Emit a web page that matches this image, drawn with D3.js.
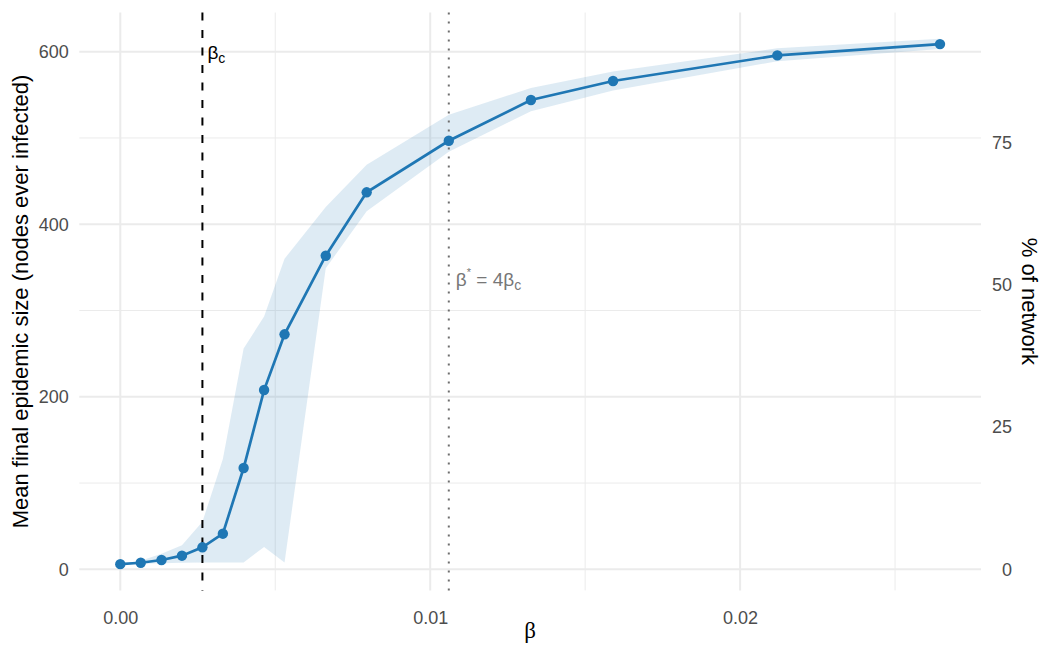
<!DOCTYPE html>
<html>
<head>
<meta charset="utf-8">
<script src="https://cdn.jsdelivr.net/npm/d3@7"></script>
<style>
  body { margin: 0; background: #fff; }
  text { font-family: "Liberation Sans", Arial, sans-serif; }
</style>
</head>
<body>
<svg id="chart" width="1050" height="660"></svg>
<script>
// data
const beta = [0, 0.00066, 0.00133, 0.00199, 0.00265, 0.00331, 0.00398, 0.00464,
  0.0053, 0.00663, 0.00795, 0.0106, 0.01325, 0.0159, 0.0212, 0.02645]
const meanSize = [6, 7.6, 10.8, 15.8, 25.5, 41.3, 117.4, 207.8, 272.4, 363.5,
  437, 496.8, 544, 566, 595.7, 608.8]
const lowerSize = [6, 6.5, 7, 7.5, 8, 8, 8, 26, 8, 349, 415, 484, 531, 555, 589, 603]
const upperSize = [6, 10, 18, 28, 55, 128, 256, 293, 360, 420, 469, 527, 558, 577, 604, 615]

const betaC = 0.00265
const betaStar = 0.0106
const networkSize = 660

const xMajor = [0, 0.01, 0.02]
const xMinor = [0.005, 0.015, 0.025]
const yMajor = [0, 200, 400, 600]
const yMinor = [100, 300, 500]
const pctTicks = [0, 25, 50, 75]

const rows = beta.map((b, i) => ({ b, m: meanSize[i], lo: lowerSize[i], hi: upperSize[i] }))

// panel box
const panel = { left: 79.3, right: 981, top: 12.5, bottom: 590.4 }

const svg = d3.select("#chart")

// ggplot-ish 5% expansion
const expand = ([a, b]) => { const r = b - a; return [a - 0.05 * r, b + 0.05 * r] }

const x = d3.scaleLinear()
  .domain(expand(d3.extent(beta)))
  .range([panel.left, panel.right])

const y = d3.scaleLinear()
  .domain(expand([d3.min(lowerSize), d3.max(upperSize)]))
  .range([panel.bottom, panel.top])

const yPct = d3.scaleLinear()
  .domain(y.domain().map(v => v / networkSize * 100))
  .range(y.range())

// grid
const grid = svg.append("g")
grid.selectAll(".xminor").data(xMinor).join("line")
  .attr("x1", d => x(d)).attr("x2", d => x(d))
  .attr("y1", panel.top).attr("y2", panel.bottom)
  .attr("stroke", "#EBEBEB").attr("stroke-width", 1)
grid.selectAll(".yminor").data(yMinor).join("line")
  .attr("x1", panel.left).attr("x2", panel.right)
  .attr("y1", d => y(d)).attr("y2", d => y(d))
  .attr("stroke", "#EBEBEB").attr("stroke-width", 1)
grid.selectAll(".xmajor").data(xMajor).join("line")
  .attr("x1", d => x(d)).attr("x2", d => x(d))
  .attr("y1", panel.top).attr("y2", panel.bottom)
  .attr("stroke", "#EBEBEB").attr("stroke-width", 2)
grid.selectAll(".ymajor").data(yMajor).join("line")
  .attr("x1", panel.left).attr("x2", panel.right)
  .attr("y1", d => y(d)).attr("y2", d => y(d))
  .attr("stroke", "#EBEBEB").attr("stroke-width", 2)

// ribbon
const area = d3.area()
  .x(d => x(d.b))
  .y0(d => y(d.lo))
  .y1(d => y(d.hi))
svg.append("path")
  .datum(rows)
  .attr("d", area)
  .attr("fill", "#1f77b4")
  .attr("fill-opacity", 0.15)

// reference lines
svg.append("line")
  .attr("x1", x(betaC)).attr("x2", x(betaC))
  .attr("y1", panel.top).attr("y2", panel.bottom)
  .attr("stroke", "#000").attr("stroke-width", 2)
  .attr("stroke-dasharray", "8,9.5")
svg.append("line")
  .attr("x1", x(betaStar)).attr("x2", x(betaStar))
  .attr("y1", panel.top).attr("y2", panel.bottom)
  .attr("stroke", "#6e6e6e").attr("stroke-width", 2)
  .attr("stroke-dasharray", "2,7")

// mean line + points
const line = d3.line().x(d => x(d.b)).y(d => y(d.m))
svg.append("path")
  .datum(rows)
  .attr("d", line)
  .attr("fill", "none")
  .attr("stroke", "#1f77b4")
  .attr("stroke-width", 2.7)
svg.selectAll(".pt").data(rows).join("circle")
  .attr("cx", d => x(d.b))
  .attr("cy", d => y(d.m))
  .attr("r", 5.2)
  .attr("fill", "#1f77b4")

// axes
const styleAxis = g => {
  g.select(".domain").remove()
  g.selectAll(".tick line").remove()
  g.selectAll(".tick text")
    .attr("fill", "#4D4D4D")
    .style("font-size", "18px")
}

svg.append("g")
  .attr("transform", `translate(0,${panel.bottom})`)
  .call(d3.axisBottom(x).tickValues(xMajor).tickFormat(d3.format(".2f")).tickSize(0).tickPadding(21))
  .call(styleAxis)

svg.append("g")
  .attr("transform", `translate(${panel.left},0)`)
  .call(d3.axisLeft(y).tickValues(yMajor).tickSize(0).tickPadding(10.5))
  .call(styleAxis)

svg.append("g")
  .attr("transform", `translate(${panel.right},0)`)
  .call(d3.axisRight(yPct).tickValues(pctTicks).tickSize(0).tickPadding(31))
  .call(styleAxis)
  .call(g => g.selectAll(".tick text").attr("text-anchor", "end"))

// axis titles
svg.append("text")
  .attr("transform", `translate(28,${(panel.top + panel.bottom) / 2}) rotate(-90)`)
  .attr("text-anchor", "middle")
  .style("font-size", "22px")
  .attr("fill", "#000")
  .text("Mean final epidemic size (nodes ever infected)")

svg.append("text")
  .attr("transform", `translate(1022,${(panel.top + panel.bottom) / 2}) rotate(90)`)
  .attr("text-anchor", "middle")
  .style("font-size", "22px")
  .attr("fill", "#000")
  .text("% of network")

svg.append("text")
  .attr("x", (panel.left + panel.right) / 2)
  .attr("y", 638)
  .attr("text-anchor", "middle")
  .style("font-family", "'Liberation Serif', serif")
  .style("font-size", "23px")
  .attr("fill", "#000")
  .text("β")

// annotations
const labC = svg.append("text")
  .attr("x", x(betaC) + 5)
  .attr("y", 59)
  .style("font-size", "19px")
  .attr("fill", "#000")
labC.append("tspan").text("β")
labC.append("tspan").attr("dy", 4).style("font-size", "14px").text("c")

const labStar = svg.append("text")
  .attr("x", x(betaStar) + 7)
  .attr("y", 286)
  .style("font-size", "19px")
  .attr("fill", "#777")
labStar.append("tspan").text("β")
labStar.append("tspan").attr("dy", -10).style("font-size", "11px").text("*")
labStar.append("tspan").attr("dy", 10).text(" = 4β")
labStar.append("tspan").attr("dy", 4).style("font-size", "14px").text("c")
</script>
</body>
</html>
